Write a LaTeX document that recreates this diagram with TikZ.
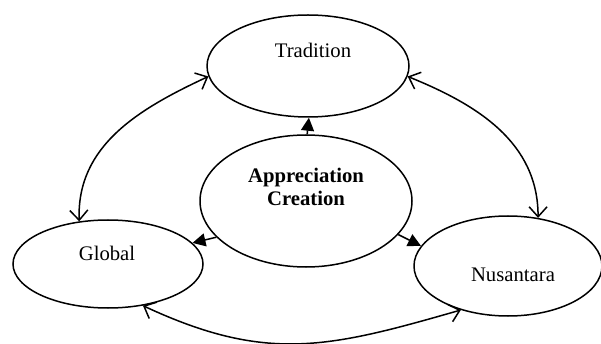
\documentclass[tikz,border=0pt]{standalone}
\usepackage{fontspec}
\setmainfont{Liberation Serif}
\usetikzlibrary{shapes.geometric,arrows.meta}
\begin{document}
\begin{tikzpicture}[x=1pt,y=-1pt,
  oval/.style={draw,ellipse,line width=1.5pt,inner sep=0pt},
  txt/.style={font=\fontsize{20.7}{23}\selectfont,align=center,inner sep=0pt},
  fillarrow/.style={line width=1.5pt,-{Triangle[length=13pt,width=13pt]}},
  openarrow/.style={line width=1.5pt,{Straight Barb[length=10pt,width=18pt]}-{Straight Barb[length=10pt,width=18pt]}}
]
\useasboundingbox (0,0) rectangle (601,344);
\node[oval,minimum width=202pt,minimum height=102pt] (trad) at (308,66) {};
\node[oval,minimum width=212pt,minimum height=132pt] (cent) at (306,201) {};
\node[oval,minimum width=190pt,minimum height=88pt] (glob) at (108,264) {};
\node[oval,minimum width=188pt,minimum height=100pt] (nusa) at (508,266) {};
\node[txt] (tradtxt) at (313,50) {Tradition};
\node[txt,font=\fontsize{20.7}{23}\selectfont\bfseries] (centtxt) at (306,187) {Appreciation\\Creation};
\node[txt] (globtxt) at (107,253) {Global};
\node[txt] (nusatxt) at (513,275) {Nusantara};
\draw[fillarrow] (cent.89) -- (trad.271);
\draw[fillarrow] (cent.202) -- (glob.14);
\draw[fillarrow] (cent.340) -- (nusa.167);
\draw[openarrow] (glob.124) to[out=92,in=205] (trad.186);
\draw[openarrow] (trad.354) to[out=-22,in=90] (nusa.58);
\draw[openarrow] (glob.310) to[out=-25,in=196,looseness=1.1] (nusa.223);
\end{tikzpicture}
\end{document}
